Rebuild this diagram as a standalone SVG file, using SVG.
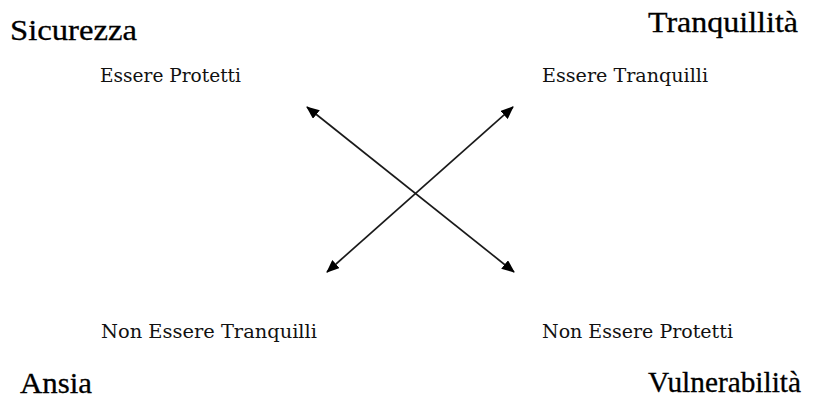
<svg xmlns="http://www.w3.org/2000/svg" width="819" height="406" viewBox="0 0 819 406">
<style>
.big{font-family:"Liberation Serif","Times New Roman",serif;font-size:30px;fill:#000;stroke:#000;stroke-width:0.3}
.small{font-family:"DejaVu Serif","Liberation Serif",serif;font-size:18.5px;fill:#111}
.conn{stroke:#1a1a1a;stroke-width:1.7;fill:none;marker-start:url(#ah);marker-end:url(#ah)}
</style>
<defs>
<marker id="ah" viewBox="0 0 13 11" refX="12" refY="5.5" markerWidth="13" markerHeight="11" markerUnits="userSpaceOnUse" orient="auto-start-reverse">
<path d="M0,0 L13,5.5 L0,11 Z" fill="#000"/>
</marker>
</defs>
<rect width="819" height="406" fill="#fff"/>
<g id="sicurezza"><text class="big" x="10" y="40" textLength="127" lengthAdjust="spacingAndGlyphs">Sicurezza</text></g>
<g id="tranquillita"><text class="big" x="648" y="32" textLength="150" lengthAdjust="spacingAndGlyphs">Tranquillità</text></g>
<g id="ansia"><text class="big" x="20" y="393" textLength="72" lengthAdjust="spacingAndGlyphs">Ansia</text></g>
<g id="vulnerabilita"><text class="big" x="648" y="392" textLength="153" lengthAdjust="spacingAndGlyphs">Vulnerabilità</text></g>
<g id="essere-protetti"><text class="small" x="100" y="82" textLength="141" lengthAdjust="spacingAndGlyphs">Essere Protetti</text></g>
<g id="essere-tranquilli"><text class="small" x="542" y="82" textLength="166" lengthAdjust="spacingAndGlyphs">Essere Tranquilli</text></g>
<g id="non-essere-tranquilli"><text class="small" x="101" y="338" textLength="216" lengthAdjust="spacingAndGlyphs">Non Essere Tranquilli</text></g>
<g id="non-essere-protetti"><text class="small" x="542" y="338" textLength="191" lengthAdjust="spacingAndGlyphs">Non Essere Protetti</text></g>
<g id="connectors">
<line class="conn" x1="307" y1="107" x2="514" y2="272"/>
<line class="conn" x1="327" y1="272" x2="513" y2="107"/>
</g>
</svg>
